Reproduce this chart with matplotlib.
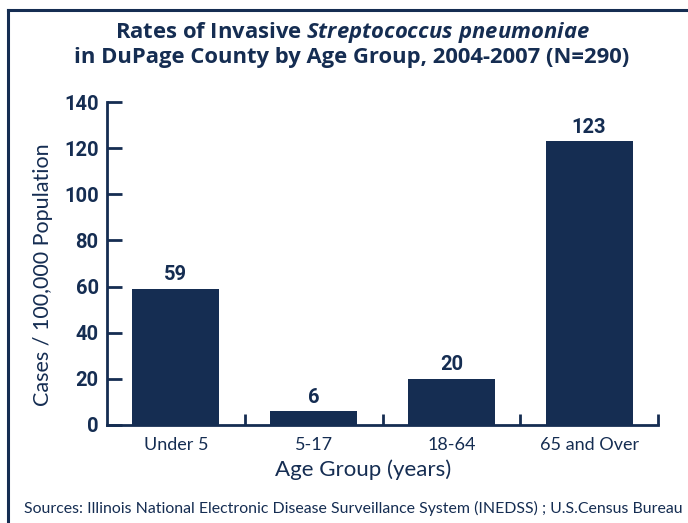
import matplotlib.pyplot as plt
from matplotlib.lines import Line2D

# data
groups = ['Under 5', '5-17', '18-64', '65 and Over']
rates = [59, 6, 20, 123]
yticks = [0, 20, 40, 60, 80, 100, 120, 140]

navy = '#152d52'
plt.rcParams['mathtext.fontset'] = 'custom'
plt.rcParams['mathtext.it'] = 'Open Sans:bold:italic'
plt.rcParams['mathtext.rm'] = 'Open Sans:bold'

fig = plt.figure(figsize=(6.88, 5.23), dpi=100)
ax = fig.add_axes([107/688, 1 - 425/523, 551/688, 323/523])

x = list(range(len(groups)))
ax.bar(x, rates, width=0.63, color=navy)
for xi, v in zip(x, rates):
    ax.text(xi, v + 2, str(v), ha='center', va='bottom', fontsize=14.5,
            fontweight='bold', family='Roboto', color=navy)

ax.set_xlim(-0.5, 3.5)
ax.set_ylim(0, 140)
ax.set_yticks(yticks)
ax.set_yticklabels([str(t) for t in yticks], fontsize=14.5, fontweight='bold',
                   family='Roboto', color=navy)
ax.tick_params(axis='y', direction='in', length=11, width=2, color=navy, pad=6)

# category labels centered, group boundary ticks pointing in
ax.set_xticks([0.5, 1.5, 2.5, 3.5])
ax.set_xticklabels([])
ax.tick_params(axis='x', direction='in', length=8, width=2, color=navy)
for xi, g in zip(x, groups):
    ax.text(xi, -5, g, ha='center', va='top', fontsize=13, family='Lato',
            color=navy, clip_on=False)

for s in ['top', 'right']:
    ax.spines[s].set_visible(False)
for s in ['left', 'bottom']:
    ax.spines[s].set_color(navy)
    ax.spines[s].set_linewidth(2)

fig.text(43/688, 1 - 275/523, 'Cases / 100,000 Population', rotation=90,
         ha='center', va='center', fontsize=15.5, family='Lato', color=navy)
fig.text(363/688, 1 - 470/523, 'Age Group (years)', ha='center', va='center',
         fontsize=16, family='Lato', color=navy)

fig.text(352/688, 1 - 44/523,
         'Rates of Invasive $\\it{Streptococcus\\ pneumoniae}$\n'
         'in DuPage County by Age Group, 2004-2007 (N=290)',
         ha='center', va='center', fontsize=15.8, fontweight='bold',
         family='Open Sans', color=navy, linespacing=1.1)

fig.text(353/688, 1 - 508/523,
         'Sources: Illinois National Electronic Disease Surveillance System (INEDSS) ; U.S.Census Bureau',
         ha='center', va='center', fontsize=11.45, family='Lato', color=navy)

# outer frame lines (left and top)
fig.add_artist(Line2D([8/688, 8/688], [0, 1 - 10/523], color=navy, lw=2.2,
                      transform=fig.transFigure))
fig.add_artist(Line2D([8/688, 1], [1 - 10/523, 1 - 10/523], color=navy, lw=2.2,
                      transform=fig.transFigure))

fig.savefig('out.png', dpi=100)
